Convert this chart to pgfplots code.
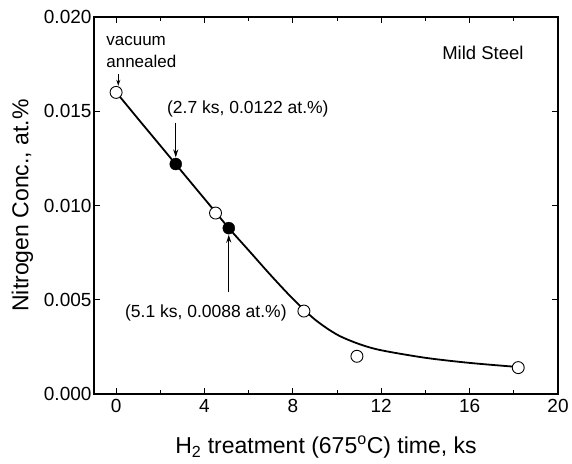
\documentclass[border=0pt]{standalone}
\usepackage{fontspec}
\setmainfont{Liberation Sans}
\usepackage{pgfplots}
\pgfplotsset{compat=1.18}
\usetikzlibrary{arrows.meta}
\begin{document}
\begin{tikzpicture}
\path[use as bounding box] (-94bp,-70bp) rectangle (478bp,394bp);
\begin{axis}[
  scale only axis,
  width=464bp, height=377bp,
  at={(0,0)}, anchor=south west,
  xmin=-1, xmax=20, ymin=0, ymax=0.020,
  xtick={0,4,8,12,16,20},
  minor xtick={2,6,10,14,18},
  ytick={0,0.005,0.010,0.015,0.020},
  scaled y ticks=false,
  tick align=inside,
  major tick length=6bp, minor tick length=4bp,
  tick style={black, line width=0.9bp},
  axis line style={line width=1.1bp},
  yticklabel style={/pgf/number format/fixed, /pgf/number format/fixed zerofill, /pgf/number format/precision=3, /pgf/number format/assume math mode=true, xshift=1bp},
  xticklabel style={/pgf/number format/assume math mode=true, yshift=-2bp},
  ticklabel style={font=\fontsize{19bp}{21bp}\selectfont},
  xlabel={H\textsubscript{2} treatment (675\textsuperscript{o}C) time, ks},
  ylabel={Nitrogen Conc., at.\%},
  label style={font=\fontsize{23bp}{25bp}\selectfont},
  xlabel style={yshift=-16bp},
  ylabel style={yshift=4bp},
  clip=false,
]
% fitted curve
\addplot[black, line width=1.8bp, smooth, tension=0.5] coordinates {
  (0.15,0.01580) (1,0.01459) (2,0.01318) (2.7,0.01219) (3.5,0.01106) (4.5,0.00965) (5.1,0.00880)
  (6,0.00762) (7,0.00630) (8,0.00505) (9,0.00395) (10,0.00315) (11,0.00265)
  (12,0.00232) (14,0.00192) (16,0.00165) (18.0,0.00145)
};
% open circles (measured)
\addplot[only marks, mark=*, mark size=6bp, mark options={fill=white, draw=black, line width=0.9bp}] coordinates {
  (0,0.0160) (4.5,0.0096) (8.5,0.0044) (10.9,0.0020) (18.2,0.0014)
};
% filled circles
\addplot[only marks, mark=*, mark size=6bp, mark options={fill=black, draw=black}] coordinates {
  (2.7,0.0122) (5.1,0.0088)
};
\node[anchor=west, align=left, font=\fontsize{17bp}{22bp}\selectfont, inner sep=0pt] at (axis cs:-0.45,0.01815) {vacuum\\annealed};
\draw[-{Stealth[length=6bp,width=4bp]}, line width=0.8bp] (axis cs:0.1,0.0170) -- (axis cs:0.1,0.01635);
\node[anchor=west, font=\fontsize{17.5bp}{20bp}\selectfont, inner sep=0pt] at (axis cs:2.3,0.0151) {(2.7 ks, 0.0122 at.\%)};
\draw[-{Stealth[length=8bp,width=5bp]}, line width=1.2bp] (axis cs:2.7,0.0144) -- (axis cs:2.7,0.01255);
\node[anchor=west, font=\fontsize{17.5bp}{20bp}\selectfont, inner sep=0pt] at (axis cs:0.4,0.0043) {(5.1 ks, 0.0088 at.\%)};
\draw[-{Stealth[length=8bp,width=5bp]}, line width=1.2bp] (axis cs:5.1,0.0054) -- (axis cs:5.1,0.00845);
\node[font=\fontsize{18.5bp}{20bp}\selectfont] at (axis cs:16.6,0.0181) {Mild Steel};
\end{axis}
\end{tikzpicture}
\end{document}
